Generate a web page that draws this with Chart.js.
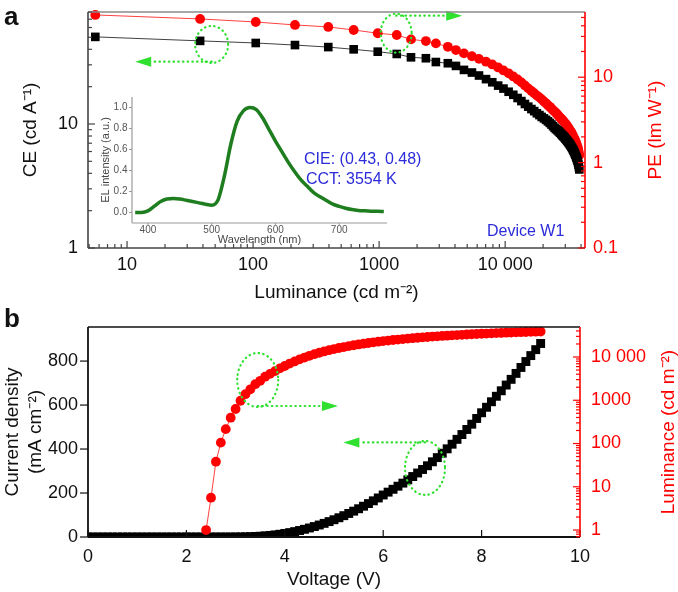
<!DOCTYPE html>
<html><head><meta charset="utf-8">
<script src="https://cdn.jsdelivr.net/npm/chart.js@4.4.1/dist/chart.umd.min.js"></script>
<style>
html,body{margin:0;padding:0;background:#fff;}
#wrap{position:relative;width:678px;height:592px;overflow:hidden;font-family:'Liberation Sans',Arial,Helvetica,sans-serif;}
canvas{position:absolute;}
.t{position:absolute;white-space:nowrap;line-height:1;}
.rot{transform:translate(-50%,-50%) rotate(-90deg);}
</style></head><body>
<div id="wrap">
<canvas id="cA" width="678" height="312" style="left:0;top:0"></canvas>
<canvas id="cB" width="678" height="292" style="left:0;top:300px"></canvas>
<canvas id="cI" width="310" height="160" style="left:90px;top:90px"></canvas>
<div class="t" style="left:4px;top:3px;font-weight:bold;font-size:26px;color:#111">a</div>
<div class="t" style="left:4px;top:305px;font-weight:bold;font-size:26px;color:#111">b</div>
<div class="t" style="left:304px;top:151px;font-size:16px;color:#2b2bd9">CIE: (0.43, 0.48)</div>
<div class="t" style="left:306px;top:171px;font-size:16px;color:#2b2bd9">CCT: 3554 K</div>
<div class="t" style="left:487px;top:223px;font-size:16px;color:#2b2bd9">Device W1</div>
<div class="t rot" style="left:654px;top:130px;font-size:19px;color:#ff0000">PE (lm W⁻¹)</div>
<div class="t rot" style="left:667px;top:432px;font-size:19px;color:#ff0000">Luminance (cd m⁻²)</div>
</div>
<script>
// ---------------- data ----------------
// Panel b: current density vs voltage
const voltageJ = [0,0.1,0.2,0.3,0.4,0.5,0.6,0.7,0.8,0.9,1,1.1,1.2,1.3,1.4,1.5,1.6,1.7,1.8,1.9,2,2.1,2.2,2.3,2.4,2.5,2.6,2.7,2.8,2.9,
3,3.1,3.2,3.3,3.4,3.5,3.6,3.7,3.8,3.9,4,4.1,4.2,4.3,4.4,4.5,4.6,4.7,4.8,4.9,5,5.1,5.2,5.3,5.4,5.5,5.6,5.7,5.8,5.9,
6,6.1,6.2,6.3,6.4,6.5,6.6,6.7,6.8,6.9,7,7.1,7.2,7.3,7.4,7.5,7.6,7.7,7.8,7.9,8,8.1,8.2,8.3,8.4,8.5,8.6,8.7,8.8,8.9,9,9.1,9.2];
const currentDensity = [0,0,0,0,0,0,0,0,0,0,0,0,0,0,0,0,0,0,0,0,0,0,0,0,0,0,0,0,0,0,
0.2,0.5,0.9,1.5,2.4,3.6,5.2,7.2,9.6,12.5,16,20,24.5,29.5,35,41,47.5,54.5,62,70,78.5,87.5,97,107,117.5,128.5,140,152,164.5,177.5,
191,204,217,231,245,260,275,291,307,324,342,361,381,401,422,444,466,489,513,539,565,590,615,640,665,691,717,744,771,798,825,852,880];
// Panel b: luminance vs voltage (also the x values of panel a)
const voltageL = [2.4,2.5,2.6,2.7,2.8,2.9,3,3.1,3.2,3.3,3.4,3.5,3.6,3.7,3.8,3.9,4,4.1,4.2,4.3,4.4,4.5,4.6,4.7,4.8,4.9,
5,5.1,5.2,5.3,5.4,5.5,5.6,5.7,5.8,5.9,6,6.1,6.2,6.3,6.4,6.5,6.6,6.7,6.8,6.9,7,7.1,7.2,7.3,7.4,7.5,7.6,7.7,7.8,7.9,
8,8.1,8.2,8.3,8.4,8.5,8.6,8.7,8.8,8.9,9,9.1,9.2];
const luminance = [1.0,5.6,38,105,215,395,628,975,1380,1790,2350,2820,3510,4070,4710,5450,6200,7050,7900,8800,9700,10650,11600,12550,13450,14350,
15250,16150,17000,17850,18700,19500,20300,21100,21850,22600,23300,24000,24700,25350,26000,26650,27250,27850,28450,29000,
29550,30100,30650,31150,31650,32150,32650,33100,33550,34000,34450,34850,35250,35650,36050,36450,36800,37150,37500,37850,38150,38450,38750];
// Panel a: efficiencies at luminance[1..]
const currentEfficiency = [50.4,46.8,45.0,43.3,41.7,40.0,38.3,36.7,34.5,33.9,31.6,30.9,29.4,27.3,26.0,
24.6,23.0,21.7,20.4,19.3,18.2,17.2,16.2,15.3,14.5,13.8,13.2,12.7,12.2,11.8,11.4,11.1,10.8,10.5,10.2,
9.9,9.6,9.3,9.1,8.9,8.7,8.5,8.3,8.1,7.95,7.8,7.6,7.45,7.3,7.15,7.0,6.85,6.7,6.55,6.4,
6.25,6.1,5.95,5.8,5.65,5.5,5.35,5.2,5.05,4.9,4.7,4.5,4.3];
const powerEfficiency = [53.6,48.1,44.3,40.9,38.8,35.7,32.7,31.2,27.7,26.5,24.9,22.7,20.8,19.0,17.6,
16.4,15.2,14.1,13.0,12.0,11.1,10.2,9.4,8.7,8.0,7.4,6.9,6.5,6.1,5.8,5.5,5.2,4.95,4.7,4.5,
4.3,4.1,3.95,3.8,3.65,3.5,3.38,3.26,3.15,3.05,2.95,2.85,2.75,2.66,2.57,2.48,2.4,2.32,2.24,2.16,
2.08,2.0,1.93,1.86,1.79,1.72,1.65,1.58,1.52,1.45,1.38,1.3,1.22];
// Inset: EL spectrum
const wavelength = [380,390,400,410,420,430,440,450,460,470,480,490,500,510,520,530,540,550,560,570,580,590,600,610,620,630,640,650,660,670,680,690,700,710,720,730,740,750,760,770];
const elIntensity = [0,0,0.015,0.06,0.105,0.128,0.133,0.128,0.117,0.105,0.092,0.079,0.07,0.12,0.35,0.65,0.87,0.97,1.0,0.98,0.9,0.79,0.68,0.58,0.48,0.39,0.31,0.25,0.19,0.15,0.115,0.08,0.058,0.04,0.028,0.02,0.016,0.013,0.011,0.01];
// Tick labels
const lumTickValues = [10,100,1000,10000];
const lumTickLabels = ['10','100','1000','10 000'];
const ceTickValues = [1,10];
const ceTickLabels = ['1','10'];
const peTickValues = [0.1,1,10];
const peTickLabels = ['0.1','1','10'];
const lumBTickValues = [1,10,100,1000,10000];
const lumBTickLabels = ['1','10','100','1000','10 000'];
const insetXTicks = [400,500,600,700];
const insetYTicks = [0,0.2,0.4,0.6,0.8,1.0];
const jTicks = [0,200,400,600,800];
const voltTicks = [0,2,4,6,8,10];

// ---------------- helpers ----------------
const FONT = "'Liberation Sans', Arial, Helvetica, sans-serif";
Chart.defaults.font.family = FONT;
function labelFrom(v, vals, labs){
  for (let i=0;i<vals.length;i++){ if (Math.abs(v-vals[i]) <= Math.abs(vals[i])*1e-6) return labs[i]; }
  return '';
}
function logTicks(min, max){
  const out=[];
  for (let e=Math.floor(Math.log10(min)); e<=Math.ceil(Math.log10(max)); e++){
    for (let m=1;m<10;m++){ const v=m*Math.pow(10,e); if (v>=min*0.9999 && v<=max*1.0001) out.push({v, major:m===1}); }
  }
  return out;
}
function fixW(w){ return s=>{ s.width=w; s.paddingTop=0; s.paddingBottom=0; }; }
function fixH(h){ return s=>{ s.height=h; s.paddingLeft=0; s.paddingRight=0; }; }
function setTicks(vals){ return s=>{ s.ticks = vals.map(v=>({value:v})); }; }

const axisDeco = {
  id:'axisDeco',
  afterDraw(chart, args, opts){
    const ctx=chart.ctx, ca=chart.chartArea;
    ctx.save();
    ctx.lineCap='butt';
    if (opts.top){
      ctx.strokeStyle=opts.top.color; ctx.lineWidth=opts.top.width;
      ctx.beginPath(); ctx.moveTo(ca.left, ca.top); ctx.lineTo(ca.right, ca.top); ctx.stroke();
    }
    (opts.axes||[]).forEach(a=>{
      const s=chart.scales[a.id];
      ctx.strokeStyle=a.color; ctx.lineWidth=a.width;
      ctx.beginPath();
      if (a.side==='left'){ ctx.moveTo(ca.left, ca.top); ctx.lineTo(ca.left, ca.bottom); }
      if (a.side==='right'){ ctx.moveTo(ca.right, ca.top); ctx.lineTo(ca.right, ca.bottom); }
      if (a.side==='bottom'){ ctx.moveTo(ca.left, ca.bottom); ctx.lineTo(ca.right, ca.bottom); }
      ctx.stroke();
      let ticks;
      if (s.type==='logarithmic') ticks=logTicks(s.min, s.max);
      else ticks=s.ticks.filter(t=>t.label!=='' && t.label!=null).map(t=>({v:t.value, major:true}));
      ctx.lineWidth=a.tickWidth||1.2;
      const sign = a.dir==='in'?1:-1;
      ticks.forEach(t=>{
        const len=t.major?a.major:a.minor; if(!len) return;
        const p=s.getPixelForValue(t.v);
        ctx.beginPath();
        if (a.side==='left'){ ctx.moveTo(ca.left,p); ctx.lineTo(ca.left+sign*len,p); }
        if (a.side==='right'){ ctx.moveTo(ca.right,p); ctx.lineTo(ca.right-sign*len,p); }
        if (a.side==='bottom'){ ctx.moveTo(p,ca.bottom); ctx.lineTo(p,ca.bottom-sign*len); }
        ctx.stroke();
      });
    });
    ctx.restore();
  }
};
const greenNotes = {
  id:'greenNotes',
  afterDatasetsDraw(chart, args, opts){
    const ctx=chart.ctx;
    (opts.items||[]).forEach(it=>{
      const xs=chart.scales.x, ys=chart.scales[it.yAxis];
      const cx=xs.getPixelForValue(it.cx), cy=ys.getPixelForValue(it.cy);
      const tip=xs.getPixelForValue(it.tipX);
      const ly = it.from==='top' ? cy-it.ry+it.shift : cy+it.ry-it.shift;
      const dir = tip>cx?1:-1;
      const base = tip-dir*opts.head;
      ctx.save();
      ctx.strokeStyle=opts.color; ctx.fillStyle=opts.color;
      ctx.lineWidth=2.2; ctx.lineCap='round'; ctx.setLineDash([0.5,4.2]);
      ctx.beginPath(); ctx.ellipse(cx,cy,it.rx,it.ry,0,0,Math.PI*2); ctx.stroke();
      ctx.beginPath(); ctx.moveTo(cx,ly); ctx.lineTo(base,ly); ctx.stroke();
      ctx.setLineDash([]);
      ctx.beginPath(); ctx.moveTo(tip,ly); ctx.lineTo(base,ly-opts.halfW); ctx.lineTo(base,ly+opts.halfW); ctx.closePath(); ctx.fill();
      ctx.restore();
    });
  }
};
Chart.register(axisDeco, greenNotes);

// ---------------- panel a ----------------
const ceData = currentEfficiency.map((v,i)=>({x:luminance[i+1], y:v}));
const peData = powerEfficiency.map((v,i)=>({x:luminance[i+1], y:v}));
new Chart(document.getElementById('cA'), {
  type:'line',
  data:{datasets:[
    {label:'CE', yAxisID:'y', data:ceData, borderColor:'rgba(0,0,0,0.75)', borderWidth:1, pointStyle:'rect', pointRadius:6.1,
     pointBackgroundColor:'#000', pointBorderColor:'#000', pointBorderWidth:0, clip:false},
    {label:'PE', yAxisID:'y2', data:peData, borderColor:'rgba(255,0,0,0.75)', borderWidth:1, pointStyle:'circle', pointRadius:4.9,
     pointBackgroundColor:'#ff0000', pointBorderColor:'#ff0000', pointBorderWidth:0, clip:false}
  ]},
  options:{
    responsive:false, animation:false, devicePixelRatio:1,
    layout:{padding:{top:12,left:0,right:0,bottom:0}},
    plugins:{legend:{display:false}, tooltip:{enabled:false},
      axisDeco:{top:{color:'#8a8a8a',width:1.5}, axes:[
        {id:'x', side:'bottom', dir:'in', color:'#444', width:1.6, major:7, minor:4},
        {id:'y', side:'left', dir:'in', color:'#444', width:1.6, major:7, minor:4},
        {id:'y2', side:'right', dir:'in', color:'#ff0000', width:1.6, major:7, minor:4}
      ]},
      greenNotes:{color:'#2fe02f', head:16, halfW:5, items:[
        {yAxis:'y', cx:46.9, cy:43.8, rx:16.5, ry:18.5, from:'bottom', shift:1.3, tipX:11.6},
        {yAxis:'y2', cx:1365, cy:32.8, rx:15.5, ry:19.5, from:'top', shift:2, tipX:4560}
      ]}
    },
    scales:{
      x:{type:'logarithmic', position:'bottom', min:4.9, max:43000,
         grid:{display:false, drawTicks:false}, border:{display:false},
         ticks:{autoSkip:false, maxRotation:0, minRotation:0, padding:6, color:'#111', font:{size:18},
                callback:v=>labelFrom(v,lumTickValues,lumTickLabels)},
         title:{display:true, text:'Luminance (cd m⁻²)', color:'#111', font:{size:19}, padding:{top:0,bottom:7.6}},
         afterFit:fixH(64)},
      y:{type:'logarithmic', position:'left', min:1, max:80,
         grid:{display:false, drawTicks:false}, border:{display:false},
         ticks:{autoSkip:false, padding:10, color:'#111', font:{size:18}, callback:v=>labelFrom(v,ceTickValues,ceTickLabels)},
         title:{display:true, text:'CE (cd A⁻¹)', color:'#111', font:{size:19}, padding:{top:19,bottom:0}},
         afterFit:fixW(88)},
      y2:{type:'logarithmic', position:'right', min:0.1, max:58,
         grid:{display:false, drawTicks:false}, border:{display:false},
         ticks:{autoSkip:false, padding:8, color:'#ff0000', font:{size:18}, callback:v=>labelFrom(v,peTickValues,peTickLabels)},
         afterFit:fixW(93)}
    }
  }
});

// ---------------- inset ----------------
new Chart(document.getElementById('cI'), {
  type:'line',
  data:{datasets:[{label:'EL', data:elIntensity.map((v,i)=>({x:wavelength[i], y:v})), borderColor:'#1e7d1e', borderWidth:3.5,
    pointRadius:0, cubicInterpolationMode:'monotone', fill:false}]},
  options:{
    responsive:false, animation:false, devicePixelRatio:1,
    layout:{padding:{top:7,left:0,right:13,bottom:0}},
    plugins:{legend:{display:false}, tooltip:{enabled:false},
      axisDeco:{axes:[
        {id:'x', side:'bottom', dir:'out', color:'#9a9a9a', width:1.2, major:3, minor:0, tickWidth:1},
        {id:'y', side:'left', dir:'out', color:'#9a9a9a', width:1.2, major:3, minor:0, tickWidth:1}
      ]}
    },
    scales:{
      x:{type:'linear', min:375, max:775,
         grid:{display:false, drawTicks:false}, border:{display:false},
         afterBuildTicks:setTicks(insetXTicks),
         ticks:{autoSkip:false, maxRotation:0, padding:1.5, color:'#555', font:{size:10}, callback:v=>String(v)},
         title:{display:true, text:'Wavelength (nm)', color:'#444', font:{size:11}, padding:{top:0,bottom:3.4}},
         afterFit:fixH(27)},
      y:{type:'linear', min:-0.1, max:1.1,
         grid:{display:false, drawTicks:false}, border:{display:false},
         afterBuildTicks:setTicks(insetYTicks),
         ticks:{autoSkip:false, padding:4.5, color:'#555', font:{size:10}, callback:v=>v.toFixed(1)},
         title:{display:true, text:'EL intensity (a.u.)', color:'#444', font:{size:11}, padding:{top:9.4,bottom:0}},
         afterFit:fixW(42)}
    }
  }
});

// ---------------- panel b ----------------
new Chart(document.getElementById('cB'), {
  type:'line',
  data:{datasets:[
    {label:'Luminance', yAxisID:'y2', data:luminance.map((v,i)=>({x:voltageL[i], y:v})), borderColor:'rgba(255,0,0,0.75)', borderWidth:1,
     pointStyle:'circle', pointRadius:4.9, pointBackgroundColor:'#ff0000', pointBorderColor:'#ff0000', pointBorderWidth:0},
    {label:'Current density', yAxisID:'y', data:currentDensity.map((v,i)=>({x:voltageJ[i], y:v})), borderColor:'rgba(0,0,0,0.75)', borderWidth:1,
     pointStyle:'rect', pointRadius:6.3, pointBackgroundColor:'#000', pointBorderColor:'#000', pointBorderWidth:0}
  ]},
  options:{
    responsive:false, animation:false, devicePixelRatio:1,
    layout:{padding:{top:27,left:0,right:0,bottom:0}},
    plugins:{legend:{display:false}, tooltip:{enabled:false},
      axisDeco:{top:{color:'#111',width:1.6}, axes:[
        {id:'x', side:'bottom', dir:'in', color:'#111', width:1.8, major:7, minor:0},
        {id:'y', side:'left', dir:'out', color:'#111', width:1.8, major:8, minor:0},
        {id:'y2', side:'right', dir:'in', color:'#ff0000', width:1.6, major:7, minor:4}
      ]},
      greenNotes:{color:'#2fe02f', head:16, halfW:5, items:[
        {yAxis:'y2', cx:3.45, cy:2940, rx:20.5, ry:27, from:'bottom', shift:1, tipX:5.08},
        {yAxis:'y', cx:6.85, cy:314, rx:20, ry:27, from:'top', shift:1.5, tipX:5.19}
      ]}
    },
    scales:{
      x:{type:'linear', min:0, max:10,
         grid:{display:false, drawTicks:false}, border:{display:false},
         afterBuildTicks:setTicks(voltTicks),
         ticks:{autoSkip:false, maxRotation:0, padding:9.5, color:'#111', font:{size:18}, callback:v=>String(v)},
         title:{display:true, text:'Voltage (V)', color:'#111', font:{size:19}, padding:{top:0,bottom:0.6}},
         afterFit:fixH(55)},
      y:{type:'linear', min:0, max:955,
         grid:{display:false, drawTicks:false}, border:{display:false},
         afterBuildTicks:setTicks(jTicks),
         ticks:{autoSkip:false, padding:10, color:'#111', font:{size:18}, callback:v=>String(v)},
         title:{display:true, text:['Current density','(mA cm⁻²)'], color:'#111', font:{size:19}, padding:{top:1.6,bottom:0}},
         afterFit:fixW(88)},
      y2:{type:'logarithmic', position:'right', min:0.69, max:49400,
         grid:{display:false, drawTicks:false}, border:{display:false},
         ticks:{autoSkip:false, padding:11, color:'#ff0000', font:{size:18}, callback:v=>labelFrom(v,lumBTickValues,lumBTickLabels)},
         afterFit:fixW(98)}
    }
  }
});
</script>
</body></html>
